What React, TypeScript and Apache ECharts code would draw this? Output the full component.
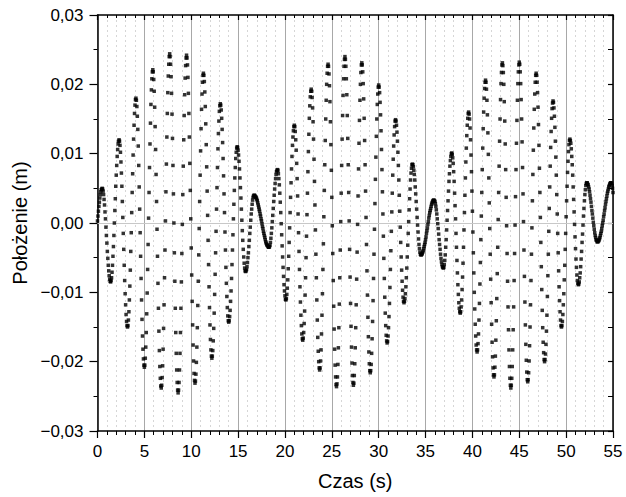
import React, { useEffect, useRef } from "react";
import * as echarts from "echarts";

// Sampling interval of the recorded position (s)
const SAMPLE_DT = 0.05;

// Start times (s) of the three recorded stretches
const START_A = 0;
const START_B = 16.7;
const START_C = 34.5;

// Position readings, in units of 0.1 mm (1e-4 m)
const POS_A = [
  3, 10, 17, 24, 30, 36, 41, 45, 48, 49,
  50, 49, 46, 41, 34, 26, 16, 6, -6, -18, -29, -41, -51, -61, -69, -76, -81, -84,
  -85, -83, -79, -71, -61, -48, -34, -18, 0, 18, 35, 53, 69, 83, 96, 106, 114, 118,
  120, 118, 112, 102, 88, 72, 53, 31, 8, -15, -38, -61, -83, -102, -118, -132, -142, -148,
  -150, -148, -140, -128, -111, -91, -68, -41, -14, 15, 44, 71, 98, 121, 141, 158, 170, 178,
  180, 177, 168, 154, 135, 111, 83, 52, 20, -14, -48, -80, -111, -139, -163, -182, -196, -205,
  -208, -205, -195, -179, -158, -131, -101, -67, -31, 7, 44, 80, 114, 144, 171, 192, 208, 218,
  221, 218, 207, 190, 167, 139, 106, 70, 31, -9, -48, -87, -123, -156, -184, -207, -224, -235,
  -238, -234, -223, -206, -182, -152, -118, -79, -39, 3, 45, 85, 124, 158, 188, 212, 229, 240,
  244, 240, 229, 211, 187, 157, 122, 83, 42, 0, -43, -84, -123, -158, -188, -212, -230, -241,
  -245, -241, -230, -212, -188, -158, -123, -85, -44, -2, 41, 82, 120, 155, 185, 209, 227, 238,
  242, 238, 228, 210, 187, 158, 124, 86, 47, 6, -36, -75, -113, -147, -176, -199, -217, -227,
  -231, -228, -218, -201, -179, -151, -119, -84, -46, -8, 31, 69, 104, 136, 164, 186, 203, 213,
  216, 213, 204, 189, 168, 143, 113, 81, 46, 11, -25, -60, -92, -122, -147, -168, -183, -192,
  -195, -192, -184, -170, -152, -130, -103, -74, -43, -12, 20, 51, 80, 107, 129, 147, 161, 169,
  172, 170, 163, 151, 135, 116, 93, 68, 42, 15, -13, -39, -64, -87, -106, -122, -134, -141,
  -143, -141, -135, -126, -113, -98, -80, -60, -39, -17, 6, 27, 47, 65, 80, 93, 102, 108,
  110, 109, 105, 98, 89, 78, 65, 51, 36, 20, 4, -11, -25, -38, -49, -58, -65, -69,
  -70, -69, -67, -63, -57, -50, -43, -34, -25, -15, -6, 4, 13, 20, 27, 33, 37, 39,
];

const POS_B = [
  40, 40, 39, 38, 37, 36, 34, 32, 29, 26, 23, 20, 17, 13, 10, 6, 3, -1, -5, -8, -12, -15, -18, -21, -24, -27, -29, -31, -32, -33, -34, -35,
  -35, -34, -32, -28, -22, -15, -7, 2, 11, 21, 31, 40, 49, 57, 64, 70, 74, 76,
  77, 76, 71, 64, 55, 43, 30, 15, -1, -17, -33, -49, -64, -77, -89, -98, -105, -110,
  -111, -109, -103, -94, -82, -66, -48, -28, -7, 15, 37, 58, 78, 96, 112, 124, 133, 139,
  141, 139, 132, 120, 105, 86, 64, 39, 13, -14, -41, -67, -92, -114, -133, -148, -160, -167,
  -169, -166, -158, -145, -127, -104, -79, -50, -19, 12, 43, 74, 103, 128, 151, 169, 182, 190,
  193, 190, 181, 166, 146, 121, 92, 60, 26, -10, -45, -79, -111, -140, -165, -185, -200, -209,
  -212, -209, -199, -183, -160, -133, -102, -67, -30, 9, 47, 84, 119, 150, 177, 200, 216, 226,
  229, 226, 215, 198, 175, 146, 113, 76, 37, -4, -44, -83, -120, -153, -182, -205, -222, -233,
  -236, -232, -222, -204, -180, -151, -117, -79, -39, 2, 43, 83, 121, 155, 184, 208, 226, 236,
  240, 236, 226, 208, 185, 155, 122, 84, 44, 3, -38, -78, -116, -149, -179, -202, -220, -230,
  -234, -231, -220, -203, -180, -151, -118, -81, -42, -2, 39, 78, 115, 148, 177, 200, 217, 228,
  231, 228, 218, 201, 179, 151, 119, 84, 46, 8, -31, -69, -104, -136, -164, -186, -203, -213,
  -216, -213, -204, -188, -167, -142, -112, -80, -45, -9, 28, 63, 95, 125, 150, 171, 186, 196,
  199, 196, 188, 174, 156, 133, 106, 77, 45, 13, -19, -51, -80, -107, -130, -148, -162, -170,
  -173, -171, -163, -151, -135, -116, -93, -67, -40, -12, 16, 43, 69, 92, 111, 127, 139, 147,
  149, 147, 141, 131, 118, 102, 83, 62, 40, 17, -6, -28, -49, -68, -84, -97, -107, -113,
  -115, -113, -109, -102, -92, -79, -65, -49, -32, -15, 2, 19, 35, 49, 62, 72, 79, 84,
  85, 84, 81, 76, 70, 62, 52, 42, 31, 20, 8, -3, -13, -23, -31, -37, -42, -45,
];

const POS_C = [
  -46, -46, -45, -44, -42, -40, -37, -34, -31, -28, -24, -20, -15, -11, -7, -2, 2, 7, 11, 15, 18, 21, 24, 27, 29, 31, 32, 33,
  33, 32, 31, 28, 24, 19, 13, 6, -1, -8, -16, -24, -31, -38, -45, -51, -56, -60, -63, -64,
  -65, -64, -60, -54, -46, -35, -24, -10, 4, 18, 32, 46, 60, 71, 82, 90, 96, 100,
  101, 99, 94, 86, 74, 60, 43, 25, 6, -15, -35, -54, -72, -89, -103, -115, -123, -128,
  -130, -128, -121, -111, -96, -78, -58, -35, -10, 15, 40, 65, 88, 108, 126, 141, 151, 158,
  160, 157, 150, 137, 120, 98, 74, 46, 17, -13, -43, -72, -100, -124, -146, -163, -176, -183,
  -186, -183, -174, -160, -140, -116, -88, -57, -24, 10, 44, 77, 108, 136, 160, 180, 194, 203,
  206, 203, 193, 177, 156, 130, 99, 65, 29, -8, -45, -81, -115, -146, -172, -193, -209, -219,
  -222, -219, -208, -192, -169, -141, -109, -73, -35, 5, 44, 82, 118, 150, 178, 201, 217, 228,
  231, 227, 217, 200, 175, 147, 114, 77, 37, -4, -44, -84, -121, -154, -183, -207, -224, -234,
  -238, -234, -224, -207, -183, -154, -121, -83, -44, -3, 38, 77, 115, 148, 177, 201, 218, 228,
  232, 229, 218, 201, 178, 150, 117, 80, 42, 2, -39, -77, -114, -147, -175, -198, -215, -226,
  -229, -226, -216, -199, -177, -150, -118, -83, -45, -7, 32, 70, 105, 137, 164, 186, 203, 213,
  216, 213, 203, 188, 167, 142, 112, 79, 44, 8, -28, -63, -96, -126, -151, -172, -187, -197,
  -200, -197, -189, -175, -156, -133, -106, -76, -45, -12, 21, 52, 82, 109, 132, 151, 165, 173,
  176, 174, 166, 154, 138, 118, 95, 69, 41, 13, -15, -43, -69, -92, -112, -128, -140, -148,
  -150, -148, -142, -132, -118, -102, -82, -61, -38, -15, 9, 32, 53, 73, 89, 103, 113, 119,
  121, 119, 115, 107, 96, 84, 69, 52, 34, 16, -2, -20, -37, -52, -64, -75, -83, -87,
  -89, -88, -85, -79, -72, -63, -52, -41, -28, -16, -3, 10, 21, 32, 41, 48, 54, 57,
  58, 58, 56, 55, 52, 49, 45, 40, 35, 30, 24, 18, 13, 7, 1, -4, -9, -14, -18, -21, -24, -25, -27,
  -27, -27, -26, -25, -23, -21, -18, -15, -12, -8, -4, 0, 4, 9, 13, 18, 22, 27, 31, 35, 39, 43, 46, 49, 52, 54, 56, 57, 58,
  58, 57, 54, 50, 44,
];

const X_MIN = 0;
const X_MAX = 55;
const X_STEP = 5;
const Y_MIN = -0.03;
const Y_MAX = 0.03;
const Y_STEP = 0.01;

const X_TITLE = "Czas (s)";
const Y_TITLE = "Położenie (m)";

const FONT = 'Arial, "Liberation Sans", sans-serif';

function fmtY(v: number): string {
  if (Math.abs(v) < 1e-9) return "0,00";
  const s = Math.abs(v).toFixed(2).replace(".", ",");
  return v < 0 ? "\u2212" + s : s;
}

export default function App() {
  const ref = useRef<HTMLDivElement>(null);

  useEffect(() => {
    if (!ref.current) return;
    const chart = echarts.init(ref.current, null, { renderer: "svg" });

    const toPoints = (start: number, arr: number[]) =>
      arr.map((v, i) => [Math.round((start + i * SAMPLE_DT) * 100) / 100, v / 10000]);
    const points = [
      ...toPoints(START_A, POS_A),
      ...toPoints(START_B, POS_B),
      ...toPoints(START_C, POS_C),
    ];

    const frame = { show: true, onZero: false, lineStyle: { color: "#000", width: 1.5 } };

    chart.setOption({
      animation: false,
      backgroundColor: "#fff",
      grid: { left: 97.5, right: 13, top: 15, bottom: 66, containLabel: false },
      xAxis: [
        {
          type: "value",
          position: "bottom",
          min: X_MIN,
          max: X_MAX,
          interval: X_STEP,
          axisLine: frame,
          axisTick: { show: true, inside: false, length: 7, lineStyle: { color: "#000", width: 1.2 } },
          minorTick: { show: true, splitNumber: 5, length: 4, lineStyle: { color: "#000", width: 1 } },
          axisLabel: { fontSize: 17, color: "#000", fontFamily: FONT, margin: 12 },
          splitLine: { show: true, lineStyle: { color: "#a8a8a8", width: 1 } },
          minorSplitLine: { show: true, lineStyle: { color: "#d6d6d6", width: 1, type: [2, 3] } },
          name: X_TITLE,
          nameLocation: "middle",
          nameGap: 40,
          nameTextStyle: { fontSize: 20, color: "#000", fontFamily: FONT },
        },
        {
          type: "value",
          position: "top",
          min: X_MIN,
          max: X_MAX,
          interval: X_STEP,
          axisLine: frame,
          axisTick: { show: true, inside: true, length: 5, lineStyle: { color: "#000", width: 1.2 } },
          minorTick: { show: true, splitNumber: 5, length: 3, lineStyle: { color: "#000", width: 1 } },
          axisLabel: { show: false },
          splitLine: { show: false },
        },
      ],
      yAxis: [
        {
          type: "value",
          position: "left",
          min: Y_MIN,
          max: Y_MAX,
          interval: Y_STEP,
          axisLine: frame,
          axisTick: { show: true, inside: false, length: 8, lineStyle: { color: "#000", width: 1.2 } },
          minorTick: { show: true, splitNumber: 2, length: 4, lineStyle: { color: "#000", width: 1 } },
          axisLabel: { fontSize: 17, color: "#000", fontFamily: FONT, margin: 14, formatter: fmtY },
          splitLine: { show: false },
          name: Y_TITLE,
          nameLocation: "middle",
          nameGap: 62,
          nameRotate: 90,
          nameTextStyle: { fontSize: 20, color: "#000", fontFamily: FONT },
        },
        {
          type: "value",
          position: "right",
          min: Y_MIN,
          max: Y_MAX,
          interval: Y_STEP,
          axisLine: frame,
          axisTick: { show: true, inside: true, length: 5, lineStyle: { color: "#000", width: 1.2 } },
          minorTick: { show: true, splitNumber: 2, length: 5, lineStyle: { color: "#000", width: 1 } },
          axisLabel: { show: false },
          splitLine: { show: false },
        },
      ],
      series: [
        {
          type: "scatter",
          xAxisIndex: 0,
          yAxisIndex: 0,
          data: points,
          symbol: "rect",
          symbolSize: 3.5,
          itemStyle: { color: "#000" },
          silent: true,
          markLine: {
            silent: true,
            symbol: "none",
            label: { show: false },
            lineStyle: { color: "#c8c8c8", type: "solid", width: 1 },
            data: [{ yAxis: 0 }],
            z: 1,
          },
        },
      ],
    });

    return () => chart.dispose();
  }, []);

  return (
    <div
      ref={ref}
      style={{ position: "fixed", left: 0, top: 0, width: 626, height: 497, background: "#fff" }}
    />
  );
}
